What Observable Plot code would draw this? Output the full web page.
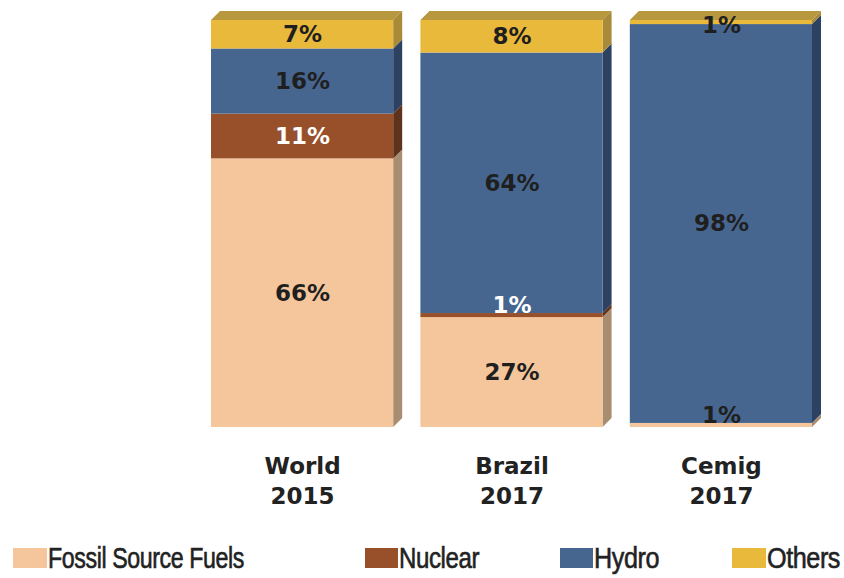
<!DOCTYPE html>
<html>
<head>
<meta charset="utf-8">
<script src="https://cdn.jsdelivr.net/npm/d3@7"></script>
<script src="https://cdn.jsdelivr.net/npm/@observablehq/plot@0.6"></script>
<style>
  html, body { margin: 0; padding: 0; background: #fff; }
  #wrap { position: relative; width: 844px; height: 578px; overflow: hidden; }
  .sw { position: absolute; top: 548px; height: 20px; }
  .lt { position: absolute; top: 541px; white-space: nowrap; transform-origin: 0 0;
        font-family: "Liberation Sans", Arial, sans-serif; font-size: 29px; line-height: 34px;
        color: #222; letter-spacing: -0.5px; -webkit-text-stroke: 0.6px #222; }
</style>
</head>
<body>
<div id="wrap"></div>
<script>
// ---- data ----
const categories = ["World\n2015", "Brazil\n2017", "Cemig\n2017"];
const sources = ["Fossil Source Fuels", "Nuclear", "Hydro", "Others"];
const fossil  = [66, 27, 1];
const nuclear = [11, 1, 0];
const hydro   = [16, 64, 98];
const others  = [7, 8, 1];
const frontColors = ["#f5c59b", "#97502a", "#46668f", "#e9b93c"];
const sideColors  = ["#a98d70", "#5f331b", "#2d4262", "#a88a38"];
const topColor = "#b8983f";
const labelColors = ["#1f1f1f", "#ffffff", "#1f1f1f", "#1f1f1f"];

// ---- layout ----
const W = 844, H = 520;
const mL = 211, mR = 32, mT = 20, mB = 93;
const BW = 0.87;                       // bar width in band units (step = 1)
const pxPerX = (W - mL - mR) / (categories.length - 1 + BW);
const pxPerY = (H - mT - mB) / 100;
const depth = 9;
const DX = depth / pxPerX, DY = depth / pxPerY;

const series = [fossil, nuclear, hydro, others];
const segs = [];
categories.forEach((c, i) => {
  let acc = 0;
  series.forEach((vals, k) => {
    const v = vals[i];
    if (v > 0) {
      segs.push({i, k, id: i + "-" + k, v, y1: acc, y2: acc + v,
                 top: acc + v >= 100 - 1e-9});
    }
    acc += v;
  });
});

const sideRows = segs.flatMap(s => [
  {id: s.id, x: s.i + BW, y1: s.y1, y2: s.y2, fill: sideColors[s.k]},
  {id: s.id, x: s.i + BW + DX, y1: s.y1 + DY, y2: s.y2 + DY, fill: sideColors[s.k]}
]);
const topRows = categories.flatMap((c, i) => [
  {id: i, y: 100, x1: i, x2: i + BW},
  {id: i, y: 100 + DY, x1: i + DX, x2: i + BW + DX}
]);

// small segments: label nudged (pixels, converted to data units)
const labelShiftPx = s => (s.v >= 3 ? 0 : (s.top ? -3 : 10));
const labelY = s => (s.y1 + s.y2) / 2 + labelShiftPx(s) / pxPerY;

const chart = Plot.plot({
  width: W, height: H,
  marginLeft: mL, marginRight: mR, marginTop: mT, marginBottom: mB,
  x: {type: "linear", domain: [0, categories.length - 1 + BW], axis: null},
  y: {domain: [0, 100], axis: null},
  color: {type: "identity"},
  style: {fontFamily: "DejaVu Sans, sans-serif", color: "#222", background: "transparent"},
  marks: [
    Plot.areaX(topRows, {y: "y", x1: "x1", x2: "x2", z: "id", fill: topColor}),
    Plot.areaY(sideRows, {x: "x", y1: "y1", y2: "y2", z: "id", fill: "fill"}),
    Plot.rect(segs, {x1: d => d.i, x2: d => d.i + BW, y1: "y1", y2: "y2",
                     fill: d => frontColors[d.k]}),
    Plot.text(segs, {x: d => d.i + BW / 2, y: labelY,
                     text: d => d.v + "%", fill: d => labelColors[d.k],
                     fontSize: 23, fontWeight: "bold"}),
    Plot.axisX({ticks: categories.map((c, i) => i + BW / 2),
                tickFormat: d => categories[Math.round(d - BW / 2)],
                tickSize: 0, tickPadding: 25, fontSize: 23, fontWeight: "bold",
                lineHeight: 1.3, fill: "#222"})
  ]
});
const wrap = document.getElementById("wrap");
wrap.appendChild(chart);

// ---- legend ----
const swX = [13, 365, 560, 732];
const swW = [34, 33, 33, 34];
const txtW = [196, 80, 65, 73];
sources.forEach((s, k) => {
  const sw = document.createElement("div");
  sw.className = "sw";
  sw.style.left = swX[k] + "px";
  sw.style.width = swW[k] + "px";
  sw.style.background = frontColors[k];
  wrap.appendChild(sw);
  const t = document.createElement("span");
  t.className = "lt";
  t.textContent = s;
  t.style.left = (swX[k] + swW[k] + 1) + "px";
  wrap.appendChild(t);
  const w = t.getBoundingClientRect().width;
  t.style.transform = "scaleX(" + (txtW[k] / w) + ")";
});
</script>
</body>
</html>
